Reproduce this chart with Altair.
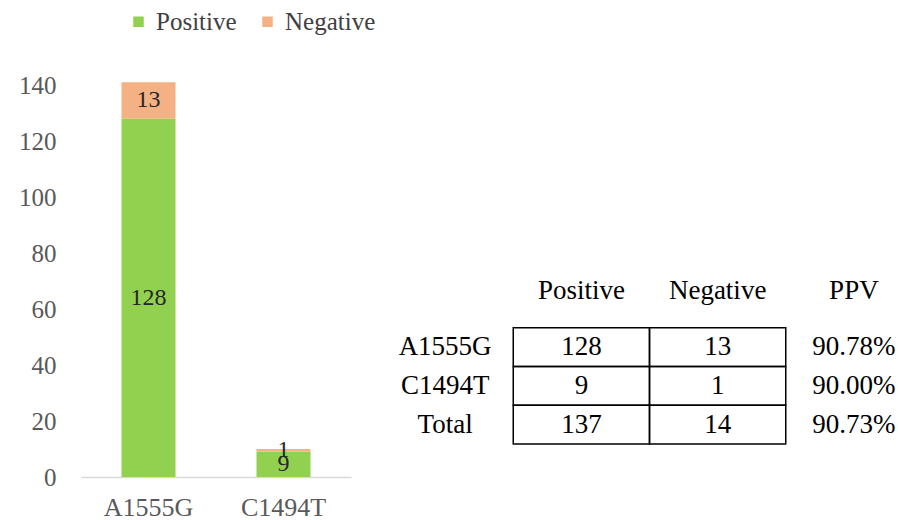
import altair as alt
import pandas as pd

# ---------------- data ----------------
mutations = ["A1555G", "C1494T"]
outcomes = ["Positive", "Negative"]
positive = [128, 9]
negative = [13, 1]
colors = ["#92D050", "#F4B183"]
y_ticks = [0, 20, 40, 60, 80, 100, 120, 140]

table_rows = ["A1555G", "C1494T", "Total"]
table_columns = ["Positive", "Negative", "PPV"]
table_positive = [128, 9, 137]
table_negative = [13, 1, 14]
table_ppv = ["90.78%", "90.00%", "90.73%"]

FONT = "'Liberation Serif', 'Times New Roman', serif"

bars = pd.DataFrame({
    "mutation": mutations + mutations,
    "outcome": ["Positive"] * len(mutations) + ["Negative"] * len(mutations),
    "count": positive + negative,
    "order": [0] * len(mutations) + [1] * len(mutations),
})

x_enc = alt.X(
    "mutation:N", sort=mutations, title=None,
    scale=alt.Scale(paddingInner=0.6, paddingOuter=0.3),
    axis=alt.Axis(labelAngle=0, ticks=False, domainColor="#D9D9D9", domainWidth=1.5,
                  labelFont=FONT, labelFontSize=26, labelColor="#595959", labelPadding=17),
)

base = alt.Chart(bars)
bar = base.mark_bar().encode(
    x=x_enc,
    y=alt.Y("count:Q", stack="zero", title=None,
            scale=alt.Scale(domain=[0, 140], clamp=False),
            axis=alt.Axis(values=y_ticks, grid=False, domain=False, ticks=False,
                          labelFont=FONT, labelFontSize=25, labelColor="#595959",
                          labelPadding=25)),
    color=alt.Color("outcome:N", sort=outcomes,
                    scale=alt.Scale(domain=outcomes, range=colors),
                    legend=alt.Legend(orient="none", legendX=45, legendY=-76,
                                      direction="horizontal", title=None,
                                      symbolType="square", symbolSize=110,
                                      symbolStrokeWidth=0, labelFont=FONT,
                                      labelFontSize=25, labelColor="#404040",
                                      columnPadding=18, labelOffset=5, padding=0)),
    order=alt.Order("order:Q", sort="ascending"),
)

labels = base.transform_stack(
    stack="count", groupby=["mutation"], as_=["y0", "y1"],
    sort=[alt.SortField("order", order="ascending")],
).transform_calculate(
    mid="(datum.y0 + datum.y1) / 2"
).mark_text(font=FONT, fontSize=24, color="#262626", baseline="middle").encode(
    x=alt.X("mutation:N", sort=mutations),
    y=alt.Y("mid:Q"),
    text=alt.Text("count:Q"),
)

left = alt.layer(bar, labels).properties(width=270, height=392)

# ---------------- table ----------------
recs = []
for c in table_columns:
    recs.append({"row": "Header", "col": c, "text": c, "kind": "header"})
for r, p, n, v in zip(table_rows, table_positive, table_negative, table_ppv):
    recs.append({"row": r, "col": "label", "text": r, "kind": "label"})
    recs.append({"row": r, "col": "Positive", "text": str(p), "kind": "cell"})
    recs.append({"row": r, "col": "Negative", "text": str(n), "kind": "cell"})
    recs.append({"row": r, "col": "PPV", "text": v, "kind": "ppv"})
tab = pd.DataFrame(recs)

tx = alt.X("col:N", axis=None,
           scale=alt.Scale(domain=["label"] + table_columns, range=[0, 545],
                           paddingInner=0, paddingOuter=0))
ty = alt.Y("row:N", axis=None,
           scale=alt.Scale(domain=["Header"] + table_rows, range=[204, 359],
                           paddingInner=0, paddingOuter=0))

tbase = alt.Chart(tab)
cells = tbase.transform_filter("datum.kind == 'cell'").mark_rect(
    fillOpacity=0, stroke="black", strokeWidth=1.5
).encode(x=tx, y=ty)
body_text = tbase.transform_filter("datum.kind != 'header'").mark_text(
    font=FONT, fontSize=27, color="black", baseline="middle", align="center"
).encode(x=tx, y=ty, text="text:N")
head_text = tbase.transform_filter("datum.kind == 'header'").mark_text(
    font=FONT, fontSize=27, color="black", baseline="middle", align="center", dy=-17
).encode(x=tx, y=ty, text="text:N")

right = alt.layer(cells, body_text, head_text).properties(width=520, height=392)

chart = alt.hconcat(left, right, spacing=26).properties(
    padding={"left": 18, "top": 9, "right": 0, "bottom": 0},
    autosize=alt.AutoSizeParams(type="pad"),
).configure_view(stroke=None)

chart.save("out.html", embed_options={"renderer": "svg", "actions": False})
